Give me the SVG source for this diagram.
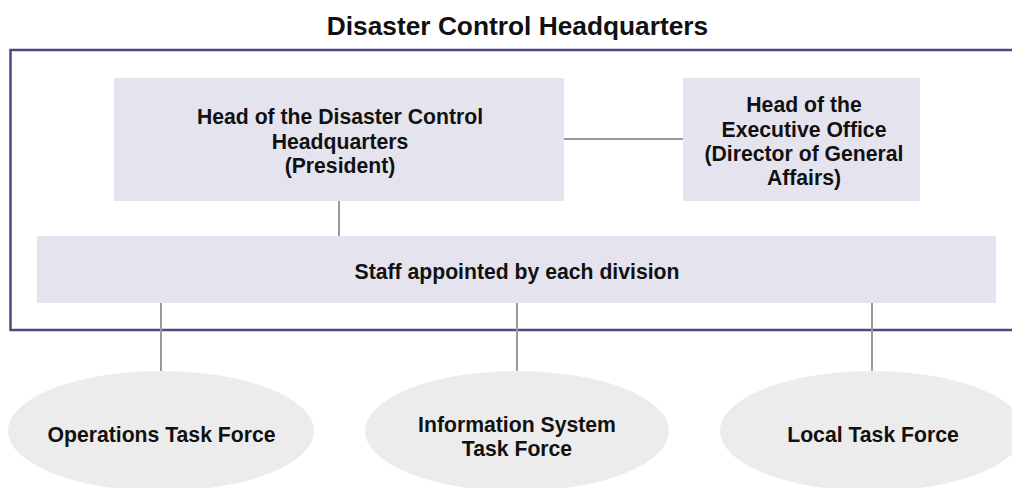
<svg xmlns="http://www.w3.org/2000/svg" width="1012" height="488" viewBox="0 0 1012 488">
<style>
.t{font-family:"Liberation Sans",Arial,sans-serif;font-weight:bold;fill:#111;text-anchor:middle}
.box{fill:#e5e4ee}
.ell{fill:#ececec}
.ln{stroke:#9a9a9a;stroke-width:2;fill:none}
.frame{stroke:#4a4980;stroke-width:2.5;fill:none}
</style>
<rect width="1012" height="488" fill="#ffffff"/>
<g id="frame">
<path class="frame" d="M1014,50 H10.5 V330 H1014"/>
<text class="t" x="517.5" y="35" font-size="26.3">Disaster Control Headquarters</text>
</g>
<g id="connectors">
<line class="ln" x1="564" y1="139" x2="683" y2="139"/>
<line class="ln" x1="339" y1="201" x2="339" y2="236"/>
<line class="ln" x1="161" y1="303" x2="161" y2="372"/>
<line class="ln" x1="517" y1="303" x2="517" y2="372"/>
<line class="ln" x1="872" y1="303" x2="872" y2="372"/>
</g>
<g id="head">
<rect class="box" x="114" y="78" width="450" height="123"/>
<text class="t" font-size="21.2"><tspan x="340" y="124">Head of the Disaster Control</tspan><tspan x="340" y="148.5">Headquarters</tspan><tspan x="340" y="173">(President)</tspan></text>
</g>
<g id="exec">
<rect class="box" x="683" y="78" width="237" height="123"/>
<text class="t" font-size="21.2"><tspan x="804" y="112">Head of the</tspan><tspan x="804" y="136.5">Executive Office</tspan><tspan x="804" y="161">(Director of General</tspan><tspan x="804" y="185">Affairs)</tspan></text>
</g>
<g id="staff">
<rect class="box" x="37" y="236" width="959" height="67"/>
<text class="t" font-size="21.2" x="517" y="279">Staff appointed by each division</text>
</g>
<g id="ops">
<ellipse class="ell" cx="161" cy="431" rx="153" ry="60"/>
<text class="t" font-size="21.2" x="161.5" y="442">Operations Task Force</text>
</g>
<g id="info">
<ellipse class="ell" cx="517" cy="431" rx="152" ry="60"/>
<text class="t" font-size="21.2"><tspan x="517" y="432">Information System</tspan><tspan x="517" y="456">Task Force</tspan></text>
</g>
<g id="local">
<ellipse class="ell" cx="872" cy="431" rx="152" ry="60"/>
<text class="t" font-size="21.2" x="873" y="442">Local Task Force</text>
</g>
</svg>
